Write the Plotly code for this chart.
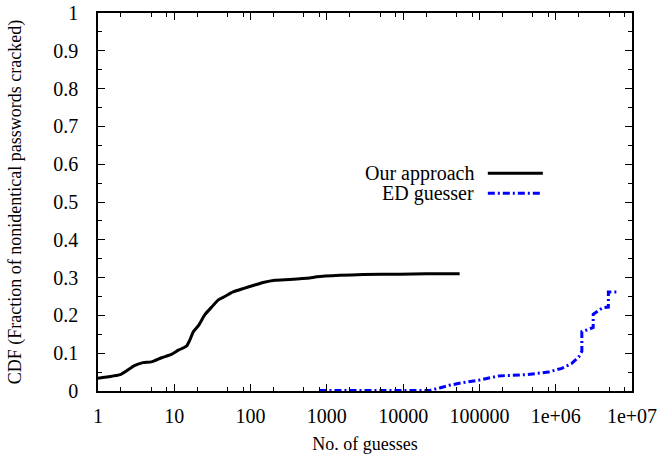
import plotly.graph_objects as go

# Our approach: guesses vs. fraction of nonidentical passwords cracked
ours_guesses = [1, 2, 3, 3.9, 5, 6.8, 9.2, 11.3, 14.5, 16, 17.8, 20.6, 25.2, 30.9, 37.8,
                46, 59, 80, 108, 146, 208, 326, 595, 735, 1480, 3000, 8900, 20000, 55000]
ours_cdf = [0.034, 0.044, 0.067, 0.075, 0.077, 0.088, 0.097, 0.108, 0.119, 0.135, 0.157,
            0.172, 0.202, 0.222, 0.241, 0.250, 0.262, 0.271, 0.279, 0.287, 0.293, 0.295,
            0.299, 0.302, 0.306, 0.308, 0.309, 0.310, 0.310]

# ED guesser
ed_guesses = [800, 22000, 30000, 40000, 60000, 100000, 180000, 400000, 800000, 1.2e6,
              1.6e6, 2.0e6, 2.2e6, 2.2e6, 2.6e6, 3.1e6, 3.1e6, 3.6e6, 4.1e6, 4.9e6,
              4.9e6, 6.3e6]
ed_cdf = [0.001, 0.001, 0.008, 0.015, 0.022, 0.029, 0.040, 0.043, 0.050, 0.060, 0.072,
          0.090, 0.105, 0.157, 0.162, 0.168, 0.203, 0.212, 0.220, 0.222, 0.262, 0.262]

x_tick_vals = [1, 10, 100, 1000, 10000, 100000, 1e6, 1e7]
x_tick_text = ["1", "10", "100", "1000", "10000", "100000", "1e+06", "1e+07"]
y_tick_vals = [0, 0.1, 0.2, 0.3, 0.4, 0.5, 0.6, 0.7, 0.8, 0.9, 1]
y_tick_text = ["0", "0.1", "0.2", "0.3", "0.4", "0.5", "0.6", "0.7", "0.8", "0.9", "1"]

series_names = ["Our approach", "ED guesser"]

FONT = "Liberation Serif"
BLUE = "#0000ff"
ED_DASH = "7px,3px,2px,3px"

x_minor = [m * 10 ** d for d in range(7) for m in (2, 5, 8)]
y_minor = [i / 20 for i in range(1, 20, 2)]

fig = go.Figure()
fig.add_trace(go.Scatter(x=ours_guesses, y=ours_cdf, mode="lines", name=series_names[0],
                         line=dict(color="black", width=3, shape="spline", smoothing=0.5)))
fig.add_trace(go.Scatter(x=ed_guesses, y=ed_cdf, mode="lines", name=series_names[1],
                         line=dict(color=BLUE, width=3, dash=ED_DASH)))

axis_common = dict(
    showline=True, linecolor="black", linewidth=1.5, mirror="allticks",
    ticks="inside", ticklen=7, tickwidth=1, tickcolor="black",
    showgrid=False, zeroline=False, automargin=False,
    tickfont=dict(family=FONT, size=20, color="black"),
    title_font=dict(family=FONT, size=18, color="black"),
)

fig.update_xaxes(type="log", range=[0, 7], tickmode="array", tickvals=x_tick_vals,
                 ticktext=x_tick_text, ticklabelstandoff=6,
                 minor=dict(tickmode="array", tickvals=x_minor, ticks="inside",
                            ticklen=4, tickcolor="black", showgrid=False),
                 title_text="No. of guesses", title_standoff=17, **axis_common)
fig.update_yaxes(range=[0, 1], tickmode="array", tickvals=y_tick_vals,
                 ticktext=y_tick_text, ticklabelstandoff=14,
                 minor=dict(tickmode="array", tickvals=y_minor, ticks="inside",
                            ticklen=4, tickcolor="black", showgrid=False),
                 title_text="CDF (Fraction of nonidentical passwords cracked)",
                 title_standoff=27, **axis_common)

# gnuplot-style key: label on the left, line sample on the right
key_rows = [(0.576, dict(color="black", width=3)),
            (0.523, dict(color=BLUE, width=3, dash=ED_DASH))]
for name, (ky, kline) in zip(series_names, key_rows):
    fig.add_annotation(xref="paper", yref="paper", x=0.708, y=ky, text=name,
                       showarrow=False, xanchor="right", yanchor="middle",
                       font=dict(family=FONT, size=20, color="black"))
    fig.add_shape(type="line", xref="paper", yref="paper", x0=0.730, x1=0.833,
                  y0=ky, y1=ky, line=kline)

fig.update_layout(
    width=661, height=454,
    margin=dict(l=98, r=29, t=13, b=63),
    paper_bgcolor="white", plot_bgcolor="white",
    showlegend=False,
)

fig.write_html("out.html")
